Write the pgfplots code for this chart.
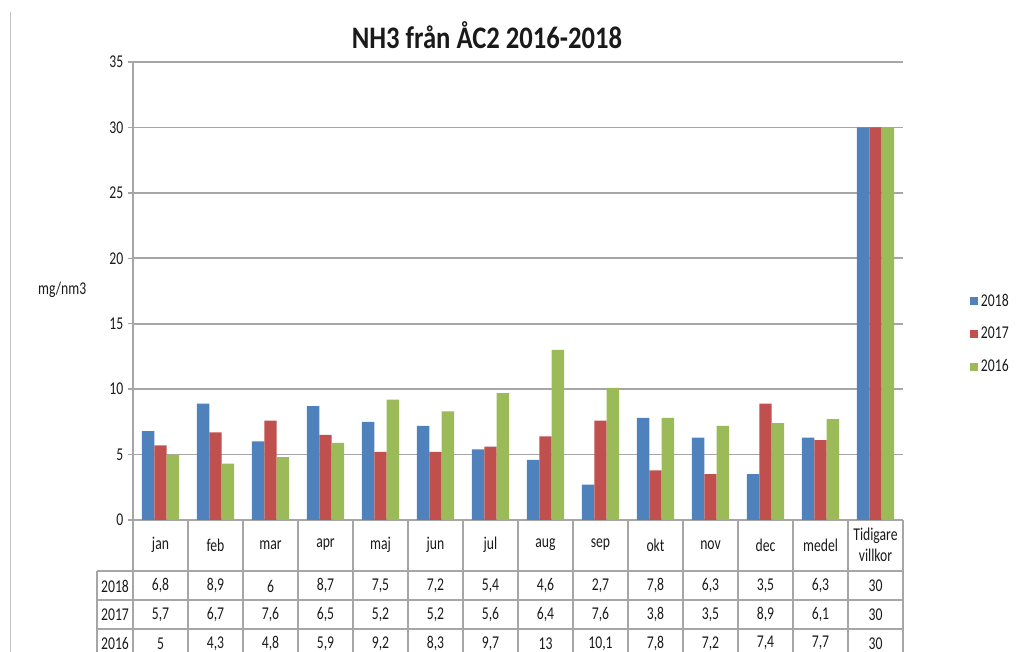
\documentclass[border=0pt]{standalone}
\usepackage{fontspec}
\setmainfont{Carlito}[FakeStretch=0.76]
\newfontfamily\titlefont{Carlito}[FakeStretch=0.85]
\usepackage{pgfplots}
\pgfplotsset{compat=1.18}
\definecolor{c18}{HTML}{4F81BD}
\definecolor{c17}{HTML}{C0504D}
\definecolor{c16}{HTML}{9BBB59}
\definecolor{gl}{HTML}{A6A6A6}
\definecolor{txt}{HTML}{1A1A1A}
\newcommand\tabfont{\fontsize{13.5}{15.5}\selectfont}
\newcommand\tcol[5]{%
  \node[font=\tabfont,text=txt,align=center] at ([yshift=-18.75pt]axis cs:#1,0) {#2};
  \node[font=\tabfont,text=txt] at ([yshift=-49.5pt]axis cs:#1,0) {#3};
  \node[font=\tabfont,text=txt] at ([yshift=-71.25pt]axis cs:#1,0) {#4};
  \node[font=\tabfont,text=txt] at ([yshift=-92.5pt]axis cs:#1,0) {#5};
}
\begin{document}
\begin{tikzpicture}
\path[use as bounding box] (0,0) rectangle (764.25pt,489pt);
\draw[gl!70, line width=0.6pt] (7.5pt,0) -- (7.5pt,480pt);
\begin{axis}[
  at={(99.75pt,99pt)}, anchor=south west,
  scale only axis, width=577.5pt, height=343.5pt,
  clip=false,
  xmin=-0.5, xmax=13.5, ymin=0, ymax=35,
  xtick=\empty,
  ytick={0,5,...,35},
  ytick pos=left,
  tick align=outside,
  major tick length=3.75pt,
  tick style={gl, line width=1pt},
  axis x line*=bottom, axis y line*=left,
  axis line style={gl, line width=1.2pt},
  ymajorgrids, grid style={gl, line width=1.2pt},
  /pgf/number format/assume math mode=true,
  yticklabel style={font=\tabfont, text=txt},
  ybar, bar width=0.225,
  legend style={at={(axis description cs:1.087,0.406)}, anchor=west, draw=none, fill=none,
    font=\tabfont, text=txt, row sep=10pt, inner sep=0pt},
  legend cell align=left,
  legend image code/.code={\fill[#1,draw=none] (0pt,-3pt) rectangle (6pt,3pt);},
]
\addplot[fill=c18, draw=none, bar shift=-0.225] coordinates {(0,6.8) (1,8.9) (2,6) (3,8.7) (4,7.5) (5,7.2) (6,5.4) (7,4.6) (8,2.7) (9,7.8) (10,6.3) (11,3.5) (12,6.3) (13,30)};
\addplot[fill=c17, draw=none, bar shift=0] coordinates {(0,5.7) (1,6.7) (2,7.6) (3,6.5) (4,5.2) (5,5.2) (6,5.6) (7,6.4) (8,7.6) (9,3.8) (10,3.5) (11,8.9) (12,6.1) (13,30)};
\addplot[fill=c16, draw=none, bar shift=0.225] coordinates {(0,5) (1,4.3) (2,4.8) (3,5.9) (4,9.2) (5,8.3) (6,9.7) (7,13) (8,10.1) (9,7.8) (10,7.2) (11,7.4) (12,7.7) (13,30)};
\legend{2018,2017,2016}
% table grid
\pgfplotsinvokeforeach{-0.5,0.5,...,13.5}{\draw[gl, line width=1.1pt] (axis cs:#1,0) -- ([yshift=-110pt]axis cs:#1,0);}
\draw[gl, line width=1.1pt] ([xshift=-27pt,yshift=-38.25pt]axis cs:-0.5,0) -- ([xshift=-27pt,yshift=-110pt]axis cs:-0.5,0);
\draw[gl, line width=1.1pt] ([xshift=-27pt,yshift=-38.25pt]axis cs:-0.5,0) -- ([yshift=-38.25pt]axis cs:13.5,0);
\draw[gl, line width=1.1pt] ([xshift=-27pt,yshift=-60pt]axis cs:-0.5,0) -- ([yshift=-60pt]axis cs:13.5,0);
\draw[gl, line width=1.1pt] ([xshift=-27pt,yshift=-81.75pt]axis cs:-0.5,0) -- ([yshift=-81.75pt]axis cs:13.5,0);
% row labels
\node[font=\tabfont,text=txt] at ([xshift=-13.5pt,yshift=-49.5pt]axis cs:-0.5,0) {2018};
\node[font=\tabfont,text=txt] at ([xshift=-13.5pt,yshift=-71.25pt]axis cs:-0.5,0) {2017};
\node[font=\tabfont,text=txt] at ([xshift=-13.5pt,yshift=-92.5pt]axis cs:-0.5,0) {2016};
% columns
\tcol{0}{jan}{6,8}{5,7}{5}
\tcol{1}{feb}{8,9}{6,7}{4,3}
\tcol{2}{mar}{6}{7,6}{4,8}
\tcol{3}{apr}{8,7}{6,5}{5,9}
\tcol{4}{maj}{7,5}{5,2}{9,2}
\tcol{5}{jun}{7,2}{5,2}{8,3}
\tcol{6}{jul}{5,4}{5,6}{9,7}
\tcol{7}{aug}{4,6}{6,4}{13}
\tcol{8}{sep}{2,7}{7,6}{10,1}
\tcol{9}{okt}{7,8}{3,8}{7,8}
\tcol{10}{nov}{6,3}{3,5}{7,2}
\tcol{11}{dec}{3,5}{8,9}{7,4}
\tcol{12}{medel}{6,3}{6,1}{7,7}
\tcol{13}{Tidigare\\villkor}{30}{30}{30}
% y label and title
\node[font=\tabfont,text=txt] at (axis description cs:-0.092,0.502) {mg/nm3};
\node[font=\titlefont\bfseries\fontsize{23.5}{28}\selectfont,text=txt] at (axis description cs:0.4597,1.059) {NH3 från ÅC2 2016-2018};
\end{axis}
\end{tikzpicture}
\end{document}
